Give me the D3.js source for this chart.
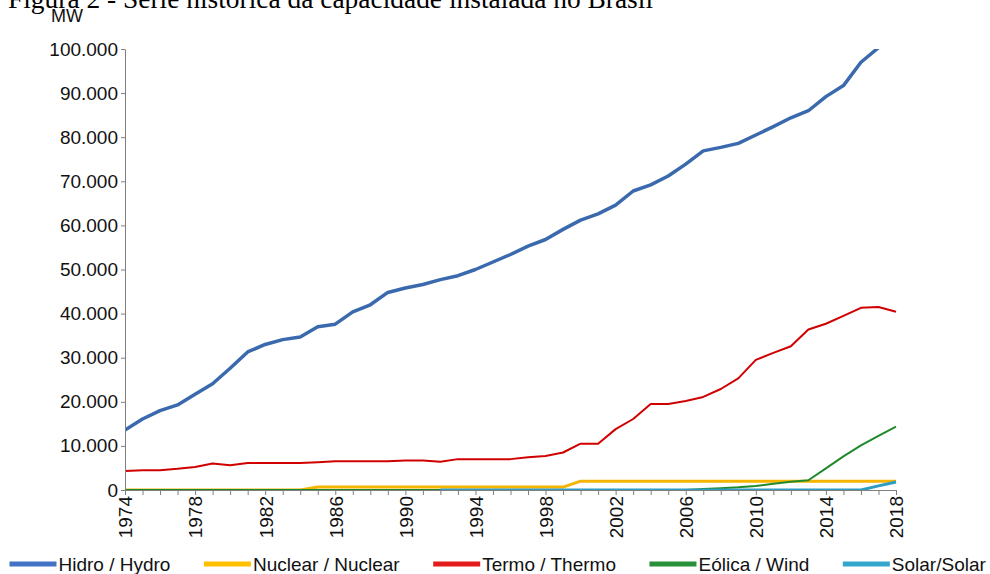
<!DOCTYPE html>
<html lang="pt">

<head>
  <meta charset="utf-8" />
  <title>Capacidade instalada no Brasil</title>
  <script src="https://cdn.jsdelivr.net/npm/d3@7"></script>
  <style>
    body {
      margin: 0;
      background: #fff;
    }

    .title {
      font-family: "Liberation Serif", "Times New Roman", serif;
      font-size: 27px;
      fill: #000;
    }

    .unit,
    .axis text,
    .legend text {
      font-family: "Liberation Sans", Arial, sans-serif;
      fill: #111;
    }

    .axis path,
    .axis line {
      stroke: #7f7f7f;
      stroke-width: 1px;
    }

    .series {
      fill: none;
      stroke-linejoin: round;
    }
  </style>
</head>

<body>
  <script>
    // capacidade instalada (MW)
    var years = [1974, 1975, 1976, 1977, 1978, 1979, 1980, 1981, 1982, 1983, 1984,
      1985, 1986, 1987, 1988, 1989, 1990, 1991, 1992, 1993, 1994, 1995, 1996,
      1997, 1998, 1999, 2000, 2001, 2002, 2003, 2004, 2005, 2006, 2007, 2008,
      2009, 2010, 2011, 2012, 2013, 2014, 2015, 2016, 2017, 2018];

    var hidro = [13600, 16100, 18000, 19300, 21700, 24100, 27600, 31300, 33000, 34100, 34700,
      37000, 37600, 40400, 42000, 44800, 45800, 46600, 47700, 48600, 50000, 51700, 53400,
      55300, 56800, 59100, 61200, 62600, 64600, 67800, 69200, 71200, 73900, 76900, 77700,
      78600, 80500, 82400, 84400, 86000, 89200, 91700, 97000, 100300, 104100];

    var nuclear = [0, 0, 0, 0, 0, 0, 0, 0, 0, 0, 0,
      657, 657, 657, 657, 657, 657, 657, 657, 657, 657, 657, 657,
      657, 657, 657, 2007, 2007, 2007, 2007, 2007, 2007, 2007, 2007, 2007,
      2007, 2007, 2007, 2007, 2007, 2007, 2007, 2007, 2007, 2007];

    var termo = [4300, 4500, 4500, 4800, 5200, 6000, 5600, 6100, 6100, 6100, 6100,
      6300, 6500, 6500, 6500, 6500, 6700, 6700, 6400, 7000, 7000, 7000, 7000,
      7400, 7700, 8500, 10500, 10500, 13800, 16100, 19500, 19500, 20200, 21100, 22900,
      25300, 29500, 31100, 32600, 36400, 37700, 39500, 41300, 41500, 40400];

    var eolica = [0, 0, 0, 0, 0, 0, 0, 0, 0, 0, 0,
      0, 0, 0, 0, 0, 0, 0, 0, 0, 0, 0, 0,
      0, 0, 0, 0, 0, 0, 0, 0, 0, 0, 247, 398,
      602, 927, 1426, 1894, 2202, 4888, 7633, 10124, 12283, 14390];

    var solar = [null, null, null, null, null, null, null, null, null, null, null,
      null, null, null, null, null, null, null, 0, 0, 0, 0, 0,
      0, 0, 0, 0, 0, 0, 0, 0, 0, 0, 0, 0,
      0, 0, 0, 0, 0, 0, 0, 0, 935, 1798];

    var yTicks = [0, 10000, 20000, 30000, 40000, 50000, 60000, 70000, 80000, 90000, 100000];

    var seriesNames = ["Hidro / Hydro", "Nuclear / Nuclear", "Termo / Thermo", "Eólica / Wind", "Solar/Solar"];
    var seriesValues = [hidro, nuclear, termo, eolica, solar];
    var lineColors = ["#3a6aad", "#f5b400", "#d00000", "#1f8a2c", "#2e9cc0"];
    var legendColors = ["#4472c4", "#ffc000", "#e31b1b", "#2a8f3a", "#34a6cc"];
    var lineWidths = [3.5, 3, 2, 2, 3];

    var w = 990;
    var h = 574;
    var margin = { top: 49, right: 94, bottom: 84, left: 125 };

    var fmt = d3.formatLocale({ decimal: ",", thousands: ".", grouping: [3], currency: ["R$", ""] }).format(",d");

    var svg = d3.select("body").append("svg")
      .attr("width", w)
      .attr("height", h);

    // título cortado no topo, como na figura original
    svg.append("text")
      .attr("class", "title")
      .attr("x", 8)
      .attr("y", 8)
      .attr("textLength", 645)
      .attr("lengthAdjust", "spacingAndGlyphs")
      .text("Figura 2 - Série histórica da capacidade instalada no Brasil");

    svg.append("text")
      .attr("class", "unit")
      .attr("x", 67)
      .attr("y", 22)
      .attr("text-anchor", "middle")
      .style("font-size", "18px")
      .text("MW");

    var xScale = d3.scaleLinear()
      .domain([years[0], years[years.length - 1]])
      .range([margin.left, w - margin.right]);

    var yScale = d3.scaleLinear()
      .domain([0, 100000])
      .range([h - margin.bottom, margin.top]);

    svg.append("clipPath")
      .attr("id", "plot")
      .append("rect")
      .attr("x", margin.left)
      .attr("y", margin.top)
      .attr("width", w - margin.left - margin.right + 2)
      .attr("height", h - margin.top - margin.bottom);

    var line = d3.line()
      .defined(function(d) { return d.v !== null; })
      .x(function(d) { return xScale(d.year); })
      .y(function(d) { return yScale(d.v); });

    seriesValues.forEach(function(vals, i) {
      var pts = years.map(function(yr, j) { return { year: yr, v: vals[j] }; });
      svg.append("path")
        .datum(pts)
        .attr("class", "series")
        .attr("clip-path", "url(#plot)")
        .attr("stroke", lineColors[i])
        .attr("stroke-width", lineWidths[i])
        .attr("d", line);
    });

    var yAxis = d3.axisLeft(yScale)
      .tickValues(yTicks)
      .tickFormat(fmt)
      .tickSize(4)
      .tickSizeOuter(0)
      .tickPadding(3);

    svg.append("g")
      .attr("class", "axis")
      .attr("transform", "translate(" + margin.left + ",0)")
      .call(yAxis)
      .selectAll("text")
      .style("font-size", "19px");

    var xAxis = d3.axisBottom(xScale)
      .tickValues(years)
      .tickFormat(function(d) { return (d - years[0]) % 4 === 0 ? d : ""; })
      .tickSize(5)
      .tickSizeOuter(0);

    svg.append("g")
      .attr("class", "axis")
      .attr("transform", "translate(0," + (h - margin.bottom) + ")")
      .call(xAxis)
      .selectAll("text")
      .style("font-size", "19px")
      .attr("text-anchor", "end")
      .attr("transform", "rotate(-90)")
      .attr("x", -6)
      .attr("y", 0)
      .attr("dy", "0.36em");

    // legenda
    var legend = svg.append("g").attr("class", "legend");
    var lx = 9.5;
    seriesNames.forEach(function(name, i) {
      legend.append("line")
        .attr("x1", lx)
        .attr("x2", lx + 47)
        .attr("y1", 564)
        .attr("y2", 564)
        .attr("stroke", legendColors[i])
        .attr("stroke-width", 5);
      var t = legend.append("text")
        .attr("x", lx + 49)
        .attr("y", 571)
        .style("font-size", "19px")
        .text(name);
      lx = lx + 49 + t.node().getComputedTextLength() + 33.5;
    });
  </script>
</body>

</html>
